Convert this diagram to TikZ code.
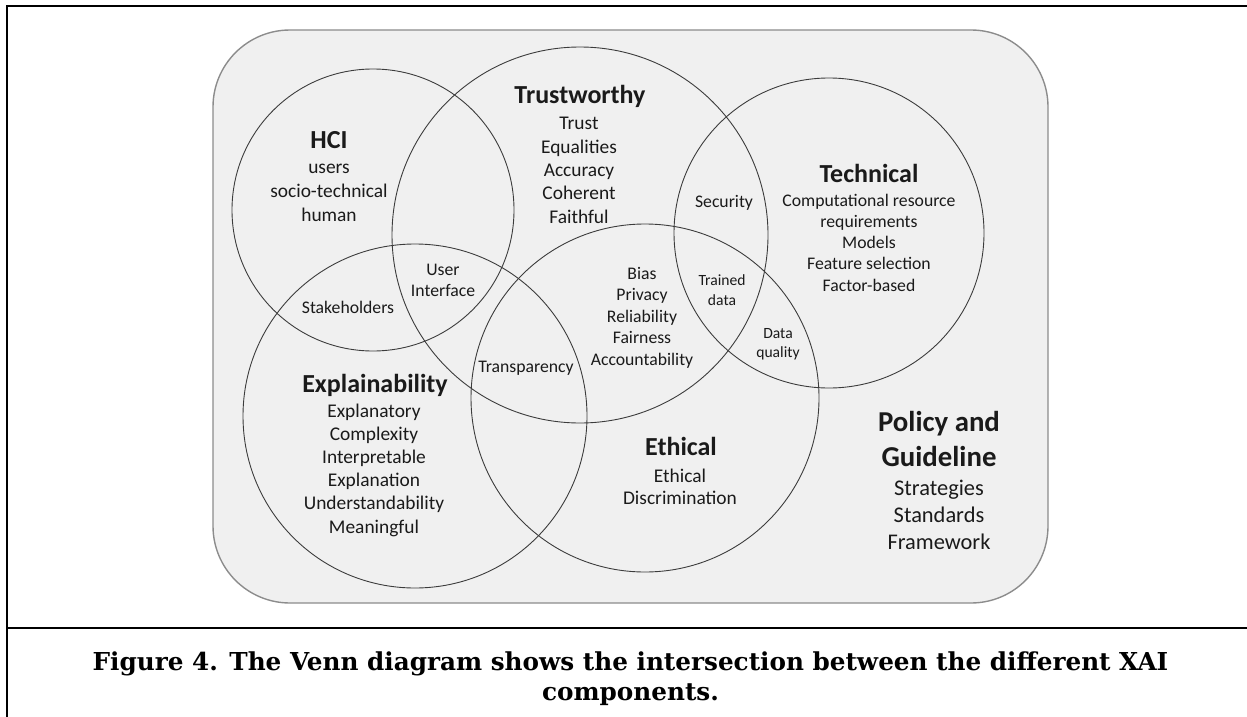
\documentclass[tikz,border=0pt]{standalone}
\usepackage{fontspec}
\setmainfont{Carlito}
\newfontfamily\captionserif{DejaVu Serif}
\definecolor{panelfill}{HTML}{F0F0F0}
\definecolor{paneledge}{HTML}{8C8C8C}
\definecolor{vennline}{HTML}{3C3C3C}
\definecolor{labeltext}{HTML}{1A1A1A}

\begin{document}
\begin{tikzpicture}[x=1pt, y=-1pt]
  \tikzset{ panel/.style={rectangle, draw=paneledge, fill=panelfill, line width=1.4pt, rounded corners=77pt, minimum width=835pt, minimum height=573pt},
            venn/.style={circle, draw=vennline, line width=0.9pt, inner sep=0pt},
            head/.style={anchor=base, inner sep=0pt, text=labeltext, font=\bfseries\fontsize{26}{30}\selectfont},
            item/.style={anchor=base, inner sep=0pt, align=center, text=labeltext, font=\fontsize{19.4}{23.3}\selectfont},
            note/.style={item, font=\fontsize{17.7}{21.4}\selectfont},
            tiny/.style={item, font=\fontsize{15.6}{19.5}\selectfont},
            frame/.style={line width=2pt}}
  \useasboundingbox (0,0) rectangle (1247,717);

  % Rahmen
  \draw[frame] (7,730) -- (7,6) -- (1260,6);
  \draw[frame] (7,628) -- (1260,628);

  \node[panel] (panel) at (630.5,316.5) {};

  % Kreise
  \node[venn, minimum size=282pt] (hci) at (373,210) {};
  \node[venn, minimum size=376pt] (trust) at (580,235) {};
  \node[venn, minimum size=310pt] (tech) at (829,233) {};
  \node[venn, minimum size=344pt] (expl) at (415,416) {};
  \node[venn, minimum size=348pt] (ethic) at (645,398) {};

  % Beschriftungen (Listen: Anker = Grundlinie der letzten Zeile)
  \node[head] (hcihead) at (329,148) {HCI};
  \node[item, font=\fontsize{19.4}{24}\selectfont] (hcilist) at (329,221) {users\\socio-technical\\human};

  \node[head] (trusthead) at (580,103) {Trustworthy};
  \node[item] (trustlist) at (579,223) {Trust\\Equalities\\Accuracy\\Coherent\\Faithful};

  \node[head] (techhead) at (869,182) {Technical};
  \node[note, font=\fontsize{17.7}{21.25}\selectfont] (techlist) at (869,291) {Computational resource\\requirements\\Models\\Feature selection\\Factor-based};

  \node[note] (security) at (724,207) {Security};
  \node[tiny] (trained) at (722,305) {Trained\\data};
  \node[tiny, font=\fontsize{15.6}{18.5}\selectfont] (quality) at (778,357) {Data\\quality};
  \node[note, font=\fontsize{17.7}{21.5}\selectfont] (bias) at (642,365) {Bias\\Privacy\\Reliability\\Fairness\\Accountability};
  \node[note] (transp) at (526,372) {Transparency};
  \node[note, font=\fontsize{17.7}{21}\selectfont] (ui) at (443,296) {User\\Interface};
  \node[note] (stake) at (348,313) {Stakeholders};

  \node[head] (explhead) at (375,392) {Explainability};
  \node[item, font=\fontsize{19.4}{23.2}\selectfont] (expllist) at (374,533) {Explanatory\\Complexity\\Interpretable\\Explanation\\Understandability\\Meaningful};

  \node[head] (ethichead) at (681,455) {Ethical};
  \node[item, font=\fontsize{19.4}{22}\selectfont] (ethiclist) at (680,504) {Ethical\\Discrimination};

  \node[head, align=center, font=\bfseries\fontsize{28.8}{35}\selectfont] (policyhead) at (939,466) {Policy and\\Guideline};
  \node[item, font=\fontsize{22.4}{27}\selectfont] (policylist) at (939,549) {Strategies\\Standards\\Framework};

  % Bildunterschrift
  \node[anchor=base, inner sep=0pt, align=center, font=\captionserif\bfseries\fontsize{24.7}{30}\selectfont] (caption) at (630.5,700)
    {Figure 4. The Venn diagram shows the intersection between the different XAI\\components.};
\end{tikzpicture}
\end{document}
